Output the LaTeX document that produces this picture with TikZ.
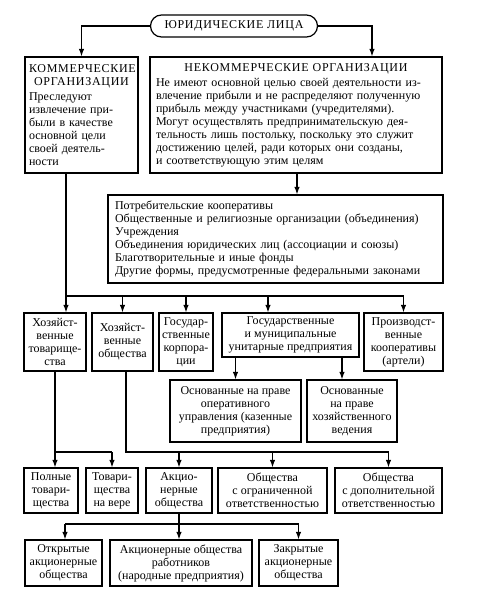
\documentclass[tikz,border=0pt]{standalone}
\usepackage{fontspec}
\setmainfont{Liberation Serif}
\newfontfamily\capsfont{Liberation Serif}[LetterSpace=6]
\usetikzlibrary{arrows.meta}

\tikzset{
  box/.style={draw, inner sep=2pt, align=center, font=\fontsize{12}{13}\selectfont},
  tbox/.style={draw, inner ysep=2pt, font=\fontsize{12}{13}\selectfont},
  arr/.style={-{Latex[length=7.5pt,width=5.5pt]}},
}

\begin{document}
\begin{tikzpicture}[x=1pt, y=-1pt, line width=1.2pt]
\useasboundingbox (0,0) rectangle (498,595);

% top level
\node[box, rounded corners=11pt, minimum width=167, minimum height=22] (lica) at (234,26) {\capsfont ЮРИДИЧЕСКИЕ ЛИЦА};
\node[tbox, inner xsep=4pt, text width=105, minimum height=116] (kom) at (81.5,115)
  {\centering\capsfont КОММЕРЧЕСКИЕ\\ОРГАНИЗАЦИИ\par\vspace{2pt}
   \raggedright\rmfamily Преследуют\\извлечение при-\\были в качестве\\основной цели\\своей деятель-\\ности\par};
\node[tbox, inner xsep=6pt, text width=280, minimum height=116] (nekom) at (296,115)
  {\centering\capsfont НЕКОММЕРЧЕСКИЕ ОРГАНИЗАЦИИ\par\vspace{2pt}
   \raggedright\rmfamily Не имеют основной целью своей деятельности из-\\
   влечение прибыли и не распределяют полученную\\
   прибыль между участниками (учредителями).\\
   Могут осуществлять предпринимательскую дея-\\
   тельность лишь постольку, поскольку это служит\\
   достижению целей, ради которых они созданы,\\
   и соответствующую этим целям\par};
\node[tbox, inner xsep=7pt, text width=321, minimum height=88] (list) at (275.5,239)
  {\raggedright Потребительские кооперативы\\
   Общественные и религиозные организации (объединения)\\
   Учреждения\\
   Объединения юридических лиц (ассоциации и союзы)\\
   Благотворительные и иные фонды\\
   Другие формы, предусмотренные федеральными законами\par};

% second row
\node[box, minimum width=62, minimum height=58] (ht) at (55,342) {Хозяйст-\\венные\\товарище-\\ства};
\node[box, minimum width=61, minimum height=58] (ho) at (122.5,342) {Хозяйст-\\венные\\общества};
\node[box, minimum width=54, minimum height=58] (gk) at (186,342) {Государ-\\ственные\\корпора-\\ции};
\node[box, minimum width=137, minimum height=44] (gup) at (290.5,335) {Государственные\\и муниципальные\\унитарные предприятия};
\node[box, minimum width=79, minimum height=58] (pk) at (403.5,342) {Производст-\\венные\\кооперативы\\(артели)};
\node[box, minimum width=131, minimum height=62] (ou) at (235.5,411) {Основанные на праве\\оперативного\\управления (казенные\\предприятия)};
\node[box, minimum width=90, minimum height=62] (xv) at (352,411) {Основанные\\на праве\\хозяйственного\\ведения};

% third row
\node[box, minimum width=54, minimum height=45] (pt) at (51,490.5) {Полные\\товари-\\щества};
\node[box, minimum width=52, minimum height=45] (tv) at (112,490.5) {Товари-\\щества\\на вере};
\node[box, minimum width=66, minimum height=45] (ao) at (179,490.5) {Акцио-\\нерные\\общества};
\node[box, minimum width=109, minimum height=45] (ooo) at (272.5,490.5) {Общества\\с ограниченной\\ответственностью};
\node[box, minimum width=107, minimum height=45] (odo) at (388.5,490.5) {Общества\\с дополнительной\\ответственностью};

% fourth row
\node[box, minimum width=77, minimum height=46] (oao) at (63.5,563) {Открытые\\акционерные\\общества};
\node[box, minimum width=142, minimum height=46] (aor) at (181,563) {Акционерные общества\\работников\\(народные предприятия)};
\node[box, minimum width=79, minimum height=46] (zao) at (298.5,563) {Закрытые\\акционерные\\общества};

% connectors
\draw[arr] (lica.west) -| (kom.north);
\draw[arr] (lica.east) -| ([xshift=76pt]nekom.north);
\draw[arr] ([xshift=1pt]nekom.south) -- ([xshift=1pt]nekom.south |- list.north);

\coordinate (bus1) at (66,296);
\coordinate (g1) at (268,296);
\draw (kom.south -| bus1) -- (bus1) -- (bus1 -| pk);
\draw[arr] (bus1) -- (bus1 |- ht.north);
\draw[arr] (g1) -- (g1 |- gup.north);
\foreach \n in {ho,gk,pk}
  \draw[arr] (bus1 -| \n) -- (\n.north);

\coordinate (g2) at (342,0);
\draw[arr] (gup.south -| ou) -- (ou.north);
\draw[arr] (gup.south -| g2) -- (xv.north -| g2);

\coordinate (bus2) at (55,452);
\draw (ht.south) -- (bus2) -- (bus2 -| tv);
\draw[arr] (bus2) -- (bus2 |- pt.north);
\draw[arr] (bus2 -| tv) -- (tv.north);

\coordinate (bus3) at (126,452);
\draw (ho.south -| bus3) -- (bus3) -- (bus3 -| odo);
\foreach \n in {ao,ooo,odo}
  \draw[arr] (bus3 -| \n) -- (\n.north);

\coordinate (bus4) at (65,524);
\draw (bus4) -- (bus4 -| zao);
\draw[arr] (ao.south) -- (ao.south |- aor.north);
\draw[arr] (bus4) -- (bus4 |- oao.north);
\draw[arr] (bus4 -| zao) -- (zao.north);
\end{tikzpicture}
\end{document}
